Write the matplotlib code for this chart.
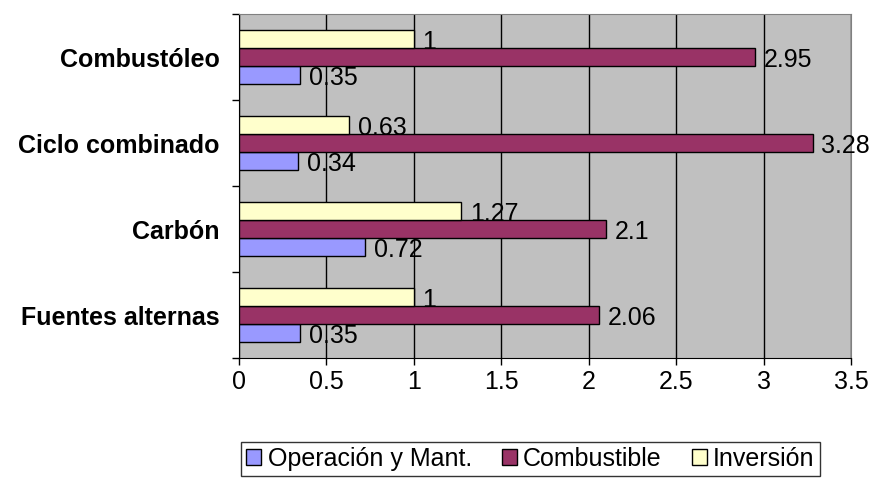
import matplotlib.pyplot as plt
import numpy as np

plt.rcParams['font.family'] = ['Liberation Sans', 'DejaVu Sans']

categories = ["Fuentes alternas", "Carbón", "Ciclo combinado", "Combustóleo"]
operacion = [0.35, 0.72, 0.34, 0.35]
combustible = [2.06, 2.1, 3.28, 2.95]
inversion = [1, 1.27, 0.63, 1]
series_names = ["Operación y Mant.", "Combustible", "Inversión"]
colors = ["#9999FF", "#993366", "#FFFFCC"]

fig = plt.figure(figsize=(8.73, 4.83), dpi=100)
ax = fig.add_axes([0.2738, 0.2588, 0.701, 0.712])
ax.set_facecolor("#C0C0C0")

y = np.arange(len(categories))
h = 0.21
series = [operacion, combustible, inversion]
bars = []
for i, (vals, name, c) in enumerate(zip(series, series_names, colors)):
    b = ax.barh(y + (i - 1) * h, vals, height=h, color=c, edgecolor="black",
                linewidth=1, label=name, zorder=3)
    bars.append(b)
    for yy, v in zip(y + (i - 1) * h, vals):
        ax.text(v + 0.05, yy - 0.03, f"{v:g}", va="center", ha="left", fontsize=18, zorder=4)

ax.set_xlim(0, 3.5)
ax.set_ylim(-0.5, len(categories) - 0.5)
ax.set_xticks(np.arange(0, 3.51, 0.5))
ax.set_xticklabels([f"{t:g}" for t in np.arange(0, 3.51, 0.5)], fontsize=18)
ax.set_yticks(y)
ax.set_yticklabels(categories, fontsize=18, fontweight="bold")
ax.tick_params(axis="y", length=0, pad=14)
ax.set_yticks(np.arange(-0.5, len(categories), 1), minor=True)
ax.tick_params(axis="y", which="minor", length=5, width=1, direction="out")
ax.tick_params(axis="x", length=5, width=1, direction="out", pad=4)
ax.grid(axis="x", color="black", linewidth=1, zorder=0)
ax.set_axisbelow(True)

for s in ["top", "right"]:
    ax.spines[s].set_color("#808080")
for s in ["left", "bottom"]:
    ax.spines[s].set_color("black")

leg = fig.legend(handles=bars, labels=series_names, loc="center",
                 bbox_to_anchor=(0.6077, 0.05), ncol=3, fontsize=18,
                 frameon=True, fancybox=False, edgecolor="black",
                 handlelength=0.6, handleheight=0.6, handletextpad=0.25,
                 columnspacing=1.2, borderpad=0.2, borderaxespad=0)
leg.get_frame().set_linewidth(1)

fig.savefig("out.png", dpi=100)
